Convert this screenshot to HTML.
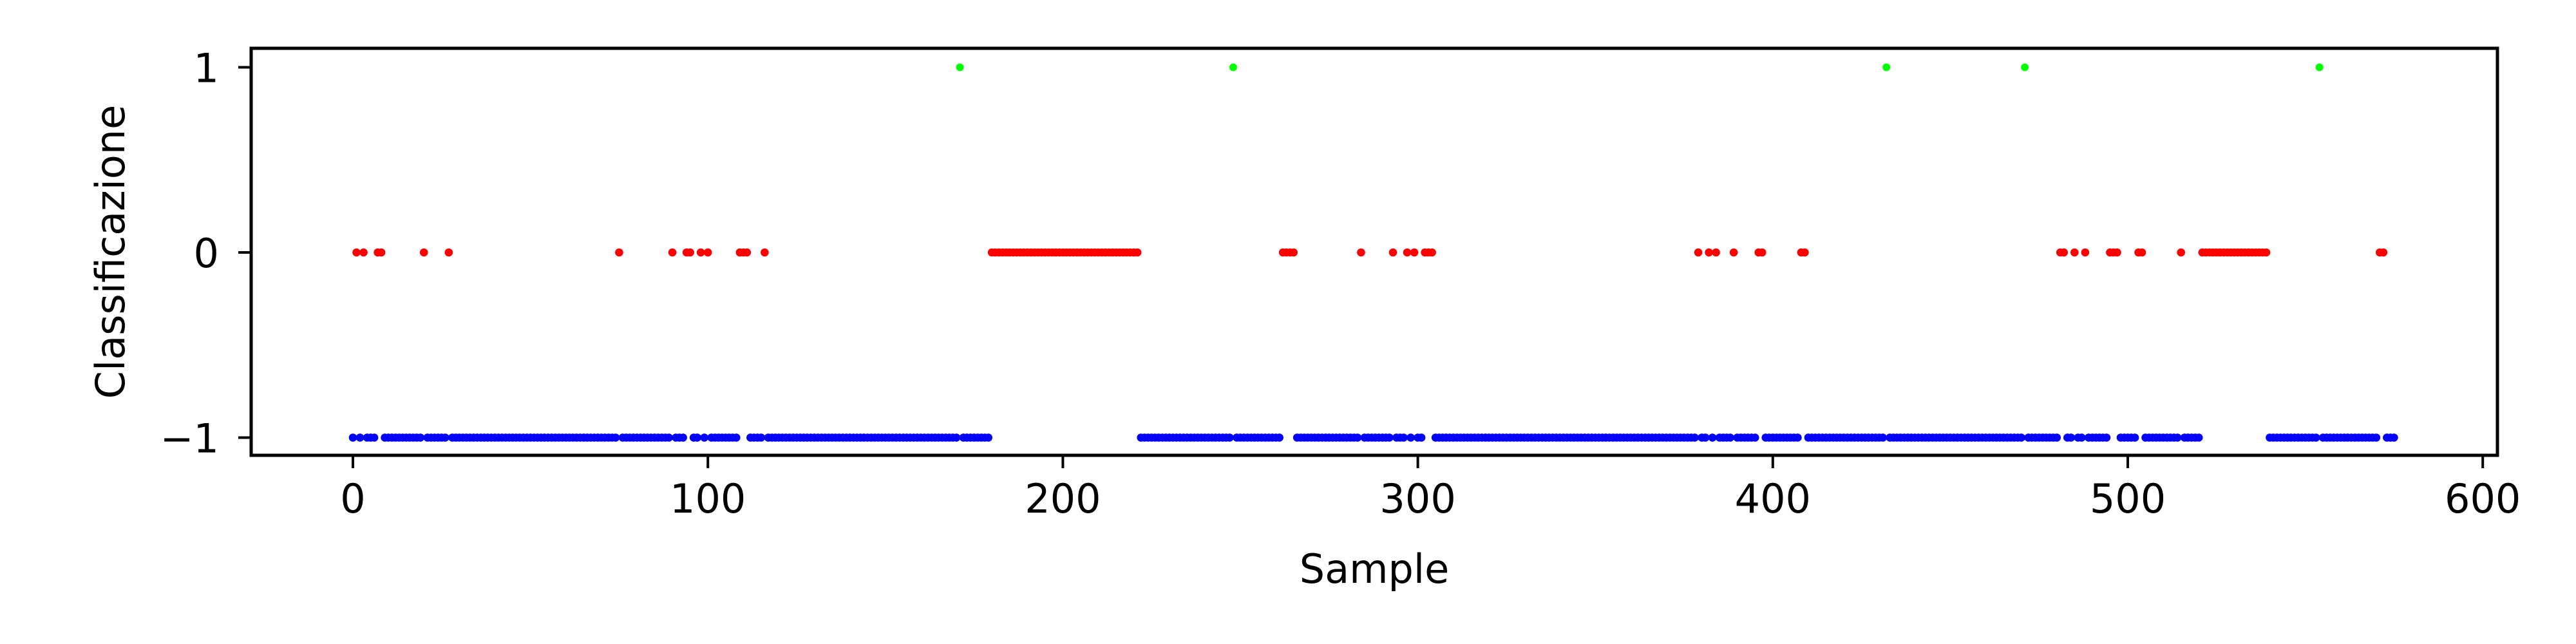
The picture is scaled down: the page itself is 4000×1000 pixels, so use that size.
<!DOCTYPE html>
<html><head><meta charset="utf-8"><style>
html,body{margin:0;padding:0;background:#fff;}
svg{display:block;font-family:"DejaVu Sans","Liberation Sans",sans-serif;}
</style></head><body>
<svg id="chart" width="4000" height="1000" viewBox="0 0 4000 1000" xmlns="http://www.w3.org/2000/svg">
<rect x="0" y="0" width="4000" height="1000" fill="#fff"/>
<g id="marks"></g>
<rect x="390" y="75" width="3488" height="632" fill="none" stroke="#000" stroke-width="5"/>
<g id="axes"></g>
<text x="2134" y="905" font-size="62" text-anchor="middle">Sample</text>
<text transform="translate(193,391) rotate(-90)" font-size="62" text-anchor="middle">Classificazione</text>
</svg>
<script>
const sampleCount = 576;
const classZero = [1,3,7,8,20,27,75,90,94,95,98,100,109,110,111,116,
180,181,182,183,184,185,186,187,188,189,190,191,192,193,194,195,196,197,198,199,200,201,202,203,204,205,206,207,208,209,210,211,212,213,214,215,216,217,218,219,220,221,
262,263,264,265,284,293,297,299,302,303,304,379,382,384,389,396,397,408,409,
481,482,485,488,495,496,497,503,504,515,
521,522,523,524,525,526,527,528,529,530,531,532,533,534,535,536,537,538,539,571,572];
const classOne = [171,248,432,471,554];
const xTicks = [0,100,200,300,400,500,600];
const yTicks = [1,0,-1];
const yTickLabels = ["1","0","\u22121"];

const NS = "http://www.w3.org/2000/svg";
function xs(v){ return 548 + v*5.512; }
function ys(v){ return 392 - v*287.5; }

const marks = document.getElementById('marks');
const axes = document.getElementById('axes');

function dot(x, y, r, color, name){
  const c = document.createElementNS(NS, 'circle');
  c.setAttribute('cx', xs(x));
  c.setAttribute('cy', ys(y));
  c.setAttribute('r', r);
  c.setAttribute('fill', color);
  
  
  marks.appendChild(c);
}
const zeroSet = new Set(classZero), oneSet = new Set(classOne);
for (let i = 0; i < sampleCount; i++) {
  if (!zeroSet.has(i) && !oneSet.has(i)) dot(i, -1, 6.3, '#0000ff', 'point-class-minus1');
}
classZero.forEach(i => dot(i, 0, 6.3, '#ff0000', 'point-class-0'));
classOne.forEach(i => dot(i, 1, 6, '#00ff00', 'point-class-1'));

xTicks.forEach(t => {
  const l = document.createElementNS(NS, 'line');
  l.setAttribute('x1', xs(t)); l.setAttribute('x2', xs(t));
  l.setAttribute('y1', 707); l.setAttribute('y2', 727);
  l.setAttribute('stroke', '#000'); l.setAttribute('stroke-width', 4);
  
  
  axes.appendChild(l);
  const tx = document.createElementNS(NS, 'text');
  tx.setAttribute('x', xs(t)); tx.setAttribute('y', 796);
  tx.setAttribute('font-size', 62); tx.setAttribute('text-anchor', 'middle');
  tx.textContent = String(t);
  
  
  axes.appendChild(tx);
});
yTicks.forEach((t, k) => {
  const l = document.createElementNS(NS, 'line');
  l.setAttribute('x1', 370); l.setAttribute('x2', 390);
  l.setAttribute('y1', ys(t)); l.setAttribute('y2', ys(t));
  l.setAttribute('stroke', '#000'); l.setAttribute('stroke-width', 4);
  
  
  axes.appendChild(l);
  const tx = document.createElementNS(NS, 'text');
  tx.setAttribute('x', 340); tx.setAttribute('y', ys(t) + 23);
  tx.setAttribute('font-size', 62); tx.setAttribute('text-anchor', 'end');
  tx.textContent = yTickLabels[k];
  
  
  axes.appendChild(tx);
});
</script>
</body></html>
